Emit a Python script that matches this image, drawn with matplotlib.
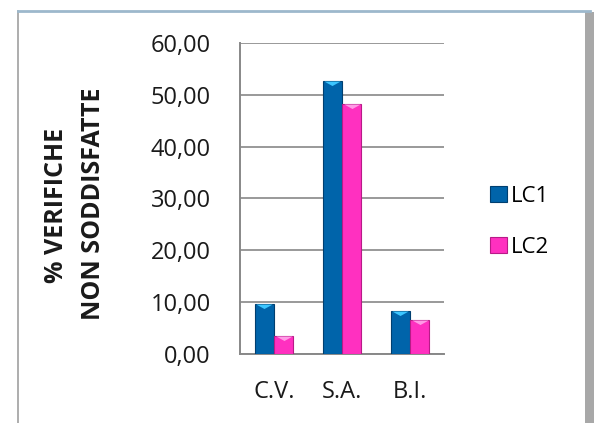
import matplotlib
matplotlib.use("Agg")
import matplotlib.pyplot as plt
import numpy as np
from matplotlib.patches import Rectangle

categories = ["C.V.", "S.A.", "B.I."]
lc1 = [9.7, 52.6, 8.2]
lc2 = [3.5, 48.2, 6.6]
yticks = [0, 10, 20, 30, 40, 50, 60]
ytick_labels = ["0,00", "10,00", "20,00", "30,00", "40,00", "50,00", "60,00"]

plt.rcParams['font.family'] = ['Open Sans', 'DejaVu Sans']

fig = plt.figure(figsize=(5.94, 4.23), dpi=100)
fig.patch.set_facecolor('white')

# outer frame
fig.add_artist(plt.Line2D([18/594, 18/594], [1-11/423, -0.05],
                          transform=fig.transFigure, color='#a0a0a0', linewidth=1.2))
fig.add_artist(Rectangle((585/594, -0.05), 9/594, 1.05-12/423,
                         transform=fig.transFigure, facecolor='#a8a8a8',
                         edgecolor='none'))
fig.add_artist(plt.Line2D([18/594, 590/594], [1-11/423, 1-11/423],
                          transform=fig.transFigure, color='#9db8cc', linewidth=2))

ax = fig.add_axes([240/594, 1-354/423, (444-240)/594, (354-43)/423])
x = np.arange(len(categories))
w = 0.28
blue, blue_edge, blue_hi = '#0064aa', '#003f70', '#3cc6ff'
pink, pink_edge, pink_hi = '#ff30c0', '#b81a88', '#ff9be6'
ax.bar(x - w/2, lc1, w, color=blue, edgecolor=blue_edge, linewidth=0.8, label='LC1', zorder=3)
ax.bar(x + w/2, lc2, w, color=pink, edgecolor=pink_edge, linewidth=0.8, label='LC2', zorder=3)
tri = [(-1, 0), (1, 0), (0, -0.55), (-1, 0)]
ax.scatter(x - w/2, lc1, marker=tri, s=140, color=blue_hi, zorder=4, linewidths=0)
ax.scatter(x + w/2, lc2, marker=tri, s=140, color=pink_hi, zorder=4, linewidths=0)

ax.set_xlim(-0.5, 2.5)
ax.set_ylim(0, 60)
ax.set_yticks(yticks)
ax.set_yticklabels(ytick_labels, fontsize=17, color='#1a1a1a')
ax.set_xticks(x)
ax.set_xticklabels(categories, fontsize=17, color='#1a1a1a')
ax.tick_params(axis='x', length=0, pad=19)
ax.tick_params(axis='y', length=0, pad=21)
ax.grid(axis='y', color='#888888', linewidth=1.2, zorder=0)
for s in ['top', 'right']:
    ax.spines[s].set_visible(False)
for s in ['left', 'bottom']:
    ax.spines[s].set_color('#888888')
    ax.spines[s].set_linewidth(1.4)

fig.text(57/594, 1-205/423, "% VERIFICHE", rotation=90,
         ha='center', va='center', fontsize=18, fontweight='bold', color='#1a1a1a')
fig.text(93/594, 1-204/423, "NON SODDISFATTE", rotation=90,
         ha='center', va='center', fontsize=18, fontweight='bold', color='#1a1a1a')

ax.legend(loc='center left', bbox_to_anchor=(479/594, 1-222/423),
          bbox_transform=fig.transFigure, frameon=False, fontsize=16,
          handlelength=0.75, handleheight=0.75, labelspacing=1.35, handletextpad=0.2,
          borderpad=0)

fig.savefig("out.png", dpi=100)
